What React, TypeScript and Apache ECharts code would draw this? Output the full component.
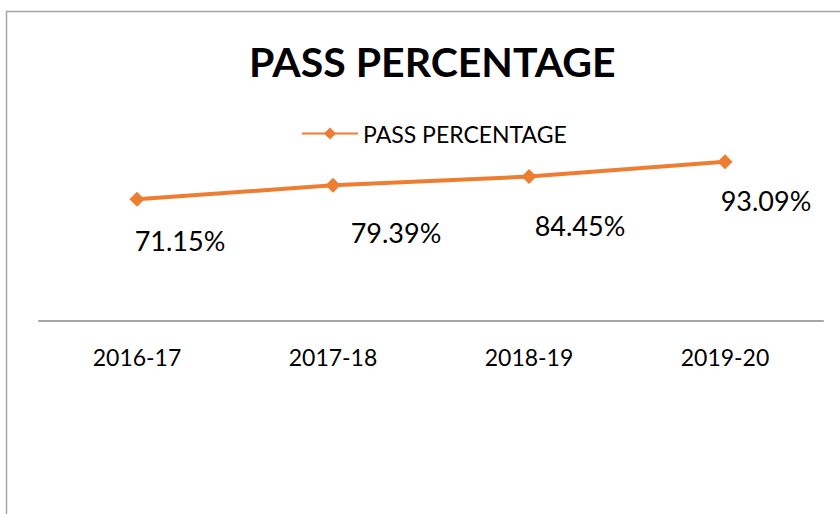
import React, { useEffect, useRef } from "react";
import * as echarts from "echarts";

const categories = ["2016-17", "2017-18", "2018-19", "2019-20"];
const passPercentage = [71.15, 79.39, 84.45, 93.09];
const seriesName = "PASS PERCENTAGE";
const titleText = "PASS PERCENTAGE";
// manual label placement (dx, dy) relative to each point
const labelOffsets = [
  [43, 41],
  [63, 47],
  [51, 49],
  [41, 39],
];

export default function App() {
  const ref = useRef<HTMLDivElement>(null);
  useEffect(() => {
    if (!ref.current) return;
    const chart = echarts.init(ref.current, null, { renderer: "svg" });
    const font = "Lato, 'Open Sans', sans-serif";
    chart.setOption({
      animation: false,
      backgroundColor: "#ffffff",
      title: {
        text: titleText,
        left: 244,
        top: 36,
        textStyle: { fontFamily: font, fontSize: 41, fontWeight: "bold", color: "#000" },
      },
      legend: {
        top: 117,
        left: 296,
        itemWidth: 56,
        itemHeight: 15,
        itemGap: 6,
        textStyle: { fontFamily: font, fontSize: 23, color: "#000" },
        data: [seriesName],
      },
      graphic: [
        {
          type: "rect",
          shape: { x: 6.5, y: 11.5, width: 900, height: 600 },
          style: { fill: "none", stroke: "#a6a6a6", lineWidth: 1.5 },
          silent: true,
          z: 0,
        },
      ],
      grid: {
        left: 39,
        right: 17,
        top: 150,
        bottom: 193,
        containLabel: false,
        outerBoundsMode: "none",
      },
      xAxis: {
        type: "category",
        data: categories,
        boundaryGap: true,
        axisLine: { lineStyle: { color: "#a6a6a6", width: 2 } },
        axisTick: { show: false },
        axisLabel: {
          fontFamily: font,
          fontSize: 23,
          color: "#000",
          margin: 24,
        },
      },
      yAxis: {
        type: "value",
        min: 0,
        max: 100,
        show: false,
        splitLine: { show: false },
      },
      series: [
        {
          name: seriesName,
          type: "line",
          data: passPercentage.map((v, i) => ({
            value: v,
            label: {
              show: true,
              position: "inside",
              offset: labelOffsets[i],
            },
          })),
          symbol: "diamond",
          symbolSize: 15,
          lineStyle: { color: "#ED7D31", width: 4 },
          itemStyle: { color: "#ED7D31" },
          label: {
            show: true,
            formatter: "{c}%",
            fontFamily: font,
            fontSize: 27,
            color: "#000",
          },
        },
      ],
    });
    return () => chart.dispose();
  }, []);
  return (
    <div
      ref={ref}
      style={{ position: "fixed", left: 0, top: 0, width: 840, height: 514 }}
    />
  );
}
